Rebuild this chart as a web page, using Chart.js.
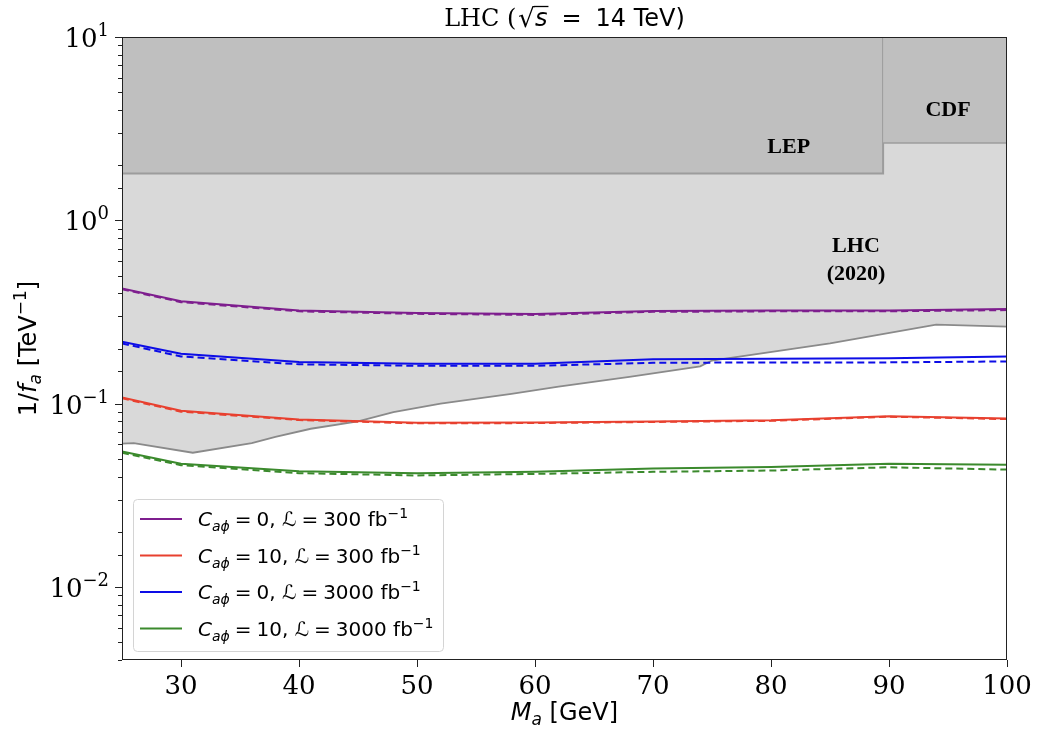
<!DOCTYPE html>
<html>
<head>
<meta charset="utf-8">
<script src="https://cdn.jsdelivr.net/npm/chart.js@4.4.1/dist/chart.umd.min.js"></script>
<style>
  html, body { margin: 0; background: #fff; }
</style>
</head>
<body>
<canvas id="grafico" width="1047" height="730"></canvas>
<script>
// masses where the curves were computed (GeV)
const masses = [25, 30, 40, 50, 60, 70, 80, 90, 100];

// C = 0, L = 300 fb^-1
const purpleSolid  = [0.425, 0.362, 0.322, 0.312, 0.308, 0.320, 0.322, 0.322, 0.328];
const purpleDashed = [0.421, 0.358, 0.319, 0.309, 0.305, 0.317, 0.319, 0.319, 0.324];
// C = 10, L = 300 fb^-1
const redSolid  = [0.108, 0.0915, 0.0820, 0.0787, 0.0790, 0.0800, 0.0812, 0.0855, 0.0830];
const redDashed = [0.107, 0.0905, 0.0814, 0.0781, 0.0784, 0.0795, 0.0806, 0.0849, 0.0824];
// C = 0, L = 3000 fb^-1
const blueSolid  = [0.218, 0.187, 0.169, 0.165, 0.165, 0.175, 0.176, 0.177, 0.181];
const blueDashed = [0.213, 0.181, 0.164, 0.161, 0.161, 0.167, 0.168, 0.168, 0.170];
// C = 10, L = 3000 fb^-1
const greenSolid  = [0.0548, 0.0471, 0.0428, 0.0417, 0.0425, 0.0443, 0.0452, 0.0471, 0.0464];
const greenDashed = [0.0540, 0.0462, 0.0418, 0.0406, 0.0414, 0.0425, 0.0432, 0.0450, 0.0437];

// existing limits
const lhcMass  = [25, 26, 31, 36, 38, 41, 45, 48, 52, 58, 62, 68, 74, 75, 85, 94, 100];
const lhcBound = [0.0605, 0.061, 0.054, 0.061, 0.066, 0.073, 0.080, 0.090, 0.100, 0.113, 0.124, 0.140, 0.160, 0.172, 0.213, 0.270, 0.263];
const lepMass  = [25, 89.5, 89.5];
const lepBound = [1.8, 1.8, 10];
const cdfMass  = [89.5, 100];
const cdfBound = [2.64, 2.64];

const xTicks = [30, 40, 50, 60, 70, 80, 90, 100];
const yMajor = [10, 1, 0.1, 0.01];
const yMajorExp = ['1', '0', '\u22121', '\u22122'];

// legend rows: [C value, luminosity]
const legendC = ['0', '10', '0', '10'];
const legendLumi = ['300', '300', '3000', '3000'];
const legendColors = ['#7e1e8e', '#e8402f', '#0d0de6', '#3b8a2d'];

// region labels [text, mass, value]
const regionLabels = [
  ['LEP', 81.5, 2.5],
  ['CDF', 95.0, 4.0],
  ['LHC', 87.2, 0.72],
  ['(2020)', 87.2, 0.51]
];

const pts = (xs, ys) => xs.map((x, i) => ({ x: x, y: ys[i] }));

function curve(data, color, dashed) {
  return {
    data: data,
    borderColor: color,
    borderWidth: 2,
    borderDash: dashed ? [7, 4] : [],
    pointRadius: 0,
    tension: 0,
    fill: false,
    order: dashed ? 0 : 1
  };
}

// parts: [text, font, dy, gapAfter]
function drawRich(ctx, parts, x, y, align) {
  let w = 0;
  parts.forEach(p => { ctx.font = p[1]; w += ctx.measureText(p[0]).width + (p[3] || 0); });
  let cx = align === 'center' ? x - w / 2 : align === 'right' ? x - w : x;
  const starts = [];
  parts.forEach(p => {
    ctx.font = p[1];
    starts.push(cx);
    ctx.fillText(p[0], cx, y + (p[2] || 0));
    cx += ctx.measureText(p[0]).width + (p[3] || 0);
  });
  return starts;
}

const decorPlugin = {
  id: 'decor',
  afterDatasetsDraw(chart) {
    const { ctx, scales: { x, y } } = chart;
    ctx.save();
    ctx.fillStyle = '#000';
    ctx.textAlign = 'center';
    ctx.textBaseline = 'middle';
    ctx.font = 'bold 22px "Liberation Serif"';
    regionLabels.forEach(l => {
      ctx.fillText(l[0], x.getPixelForValue(l[1]), y.getPixelForValue(l[2]));
    });
    ctx.restore();
  },
  afterDraw(chart) {
    const { ctx, chartArea: a, scales: { x, y } } = chart;
    ctx.save();
    ctx.strokeStyle = '#222';
    ctx.lineWidth = 1;
    ctx.beginPath();
    x.ticks.forEach(t => {
      const px = Math.round(x.getPixelForValue(t.value)) + 0.5;
      ctx.moveTo(px, a.bottom); ctx.lineTo(px, a.bottom + 7);
    });
    y.ticks.forEach(t => {
      const lg = Math.log10(t.value);
      const major = Math.abs(lg - Math.round(lg)) < 1e-6;
      const py = Math.round(y.getPixelForValue(t.value)) + 0.5;
      ctx.moveTo(a.left, py); ctx.lineTo(a.left - (major ? 7 : 4), py);
    });
    ctx.stroke();
    ctx.strokeRect(a.left + 0.5, a.top + 0.5, a.width - 1, a.height - 1);

    // y major labels
    ctx.fillStyle = '#000';
    ctx.textAlign = 'left';
    ctx.textBaseline = 'alphabetic';
    yMajor.forEach((v, i) => {
      const py = y.getPixelForValue(v);
      drawRich(ctx, [['10', '26px "DejaVu Serif"', 0], [yMajorExp[i], '18px "DejaVu Serif"', -11]], a.left - 13, py + 10, 'right');
    });

    // title
    const sans = '24px "DejaVu Sans"';
    const tParts = [
      ['LHC (', '24px "DejaVu Serif"', 0, 2],
      ['\u221A', '26px "DejaVu Sans"', 1, 0],
      ['s', 'italic 24px "DejaVu Sans"', 0, 14],
      ['=', sans, 0, 14],
      ['14', sans, 0, 0],
      [' TeV)', sans, 0, 0]
    ];
    const st = drawRich(ctx, tParts, (a.left + a.right) / 2, 26, 'center');
    ctx.font = 'italic 24px "DejaVu Sans"';
    const sw = ctx.measureText('s').width;
    ctx.beginPath();
    ctx.lineWidth = 1.3;
    ctx.strokeStyle = '#000';
    ctx.moveTo(st[2] - 1, 6.5); ctx.lineTo(st[2] + sw + 1, 6.5);
    ctx.stroke();

    // x axis title
    drawRich(ctx, [
      ['M', 'italic 24px "DejaVu Sans"', 0],
      ['a', 'italic 17px "DejaVu Sans"', 5],
      [' [GeV]', '24px "DejaVu Sans"', 0]
    ], (a.left + a.right) / 2, 720, 'center');

    // y axis title
    ctx.save();
    ctx.translate(36, (a.top + a.bottom) / 2);
    ctx.rotate(-Math.PI / 2);
    drawRich(ctx, [
      ['1/', '24px "DejaVu Sans"', 0],
      ['f', 'italic 24px "DejaVu Sans"', 0],
      ['a', 'italic 17px "DejaVu Sans"', 5],
      [' [TeV', '24px "DejaVu Sans"', 0],
      ['\u22121', '17px "DejaVu Sans"', -10],
      [']', '24px "DejaVu Sans"', 0]
    ], 0, 0, 'center');
    ctx.restore();

    // legend
    const bx = 133, by = 499, bw = 310, bh = 152;
    ctx.beginPath();
    ctx.roundRect(bx + 0.5, by + 0.5, bw, bh, 4);
    ctx.fillStyle = 'rgba(255,255,255,0.85)';
    ctx.fill();
    ctx.strokeStyle = '#d4d4d4';
    ctx.lineWidth = 1;
    ctx.stroke();
    legendC.forEach((c, i) => {
      const ry = 519 + i * 36.5;
      ctx.beginPath();
      ctx.strokeStyle = legendColors[i];
      ctx.lineWidth = 2;
      ctx.moveTo(140, ry); ctx.lineTo(182, ry);
      ctx.stroke();
      ctx.fillStyle = '#000';
      const f = '20px "DejaVu Sans"';
      drawRich(ctx, [
        ['C', 'italic 20px "DejaVu Sans"', 0, 0],
        ['a\u03D5', 'italic 14px "DejaVu Sans"', 5, 5],
        ['=', f, 0, 5],
        [c + ', ', f, 0, 0],
        ['\u2112', 'italic 20px "DejaVu Sans"', 0, 5],
        ['=', f, 0, 5],
        [legendLumi[i] + ' fb', f, 0, 0],
        ['\u22121', '14px "DejaVu Sans"', -8, 0]
      ], 198, ry + 7, 'left');
    });
    ctx.restore();
  }
};

const datasets = [
  curve(pts(masses, purpleSolid), legendColors[0], false),
  curve(pts(masses, purpleDashed), legendColors[0], true),
  curve(pts(masses, redSolid), legendColors[1], false),
  curve(pts(masses, redDashed), legendColors[1], true),
  curve(pts(masses, blueSolid), legendColors[2], false),
  curve(pts(masses, blueDashed), legendColors[2], true),
  curve(pts(masses, greenSolid), legendColors[3], false),
  curve(pts(masses, greenDashed), legendColors[3], true),
  {
    data: pts(cdfMass, cdfBound), fill: 'end', backgroundColor: '#bfbfbf',
    borderColor: '#9c9c9c', borderWidth: 1.5, pointRadius: 0, order: 5
  },
  {
    data: pts(lepMass, lepBound), fill: 'end', backgroundColor: '#bfbfbf',
    borderColor: '#9c9c9c', borderWidth: 2, pointRadius: 0, order: 6
  },
  {
    data: pts(lhcMass, lhcBound), fill: 'end', backgroundColor: '#d9d9d9',
    borderColor: '#8a8a8a', borderWidth: 1.8, pointRadius: 0, order: 7
  }
];

const canvas = document.getElementById('grafico');
new Chart(canvas, {
  type: 'line',
  data: { datasets: datasets },
  options: {
    responsive: false,
    animation: false,
    devicePixelRatio: 1,
    layout: { padding: { top: 37, right: 40, left: 0, bottom: 0 } },
    plugins: { legend: { display: false }, tooltip: { enabled: false } },
    scales: {
      x: {
        type: 'linear', min: 25, max: 100,
        afterBuildTicks: s => { s.ticks = xTicks.map(v => ({ value: v })); },
        grid: { display: false, drawTicks: false },
        border: { display: false },
        ticks: { font: { family: 'DejaVu Serif', size: 26 }, color: '#000', padding: 12, maxRotation: 0, autoSkip: false },
        afterFit: s => { s.height = 70; }
      },
      y: {
        type: 'logarithmic', min: 0.004, max: 10,
        grid: { display: false, drawTicks: false },
        border: { display: false },
        ticks: { display: false },
        afterFit: s => { s.width = 122; }
      }
    }
  },
  plugins: [decorPlugin]
});
</script>
</body>
</html>
